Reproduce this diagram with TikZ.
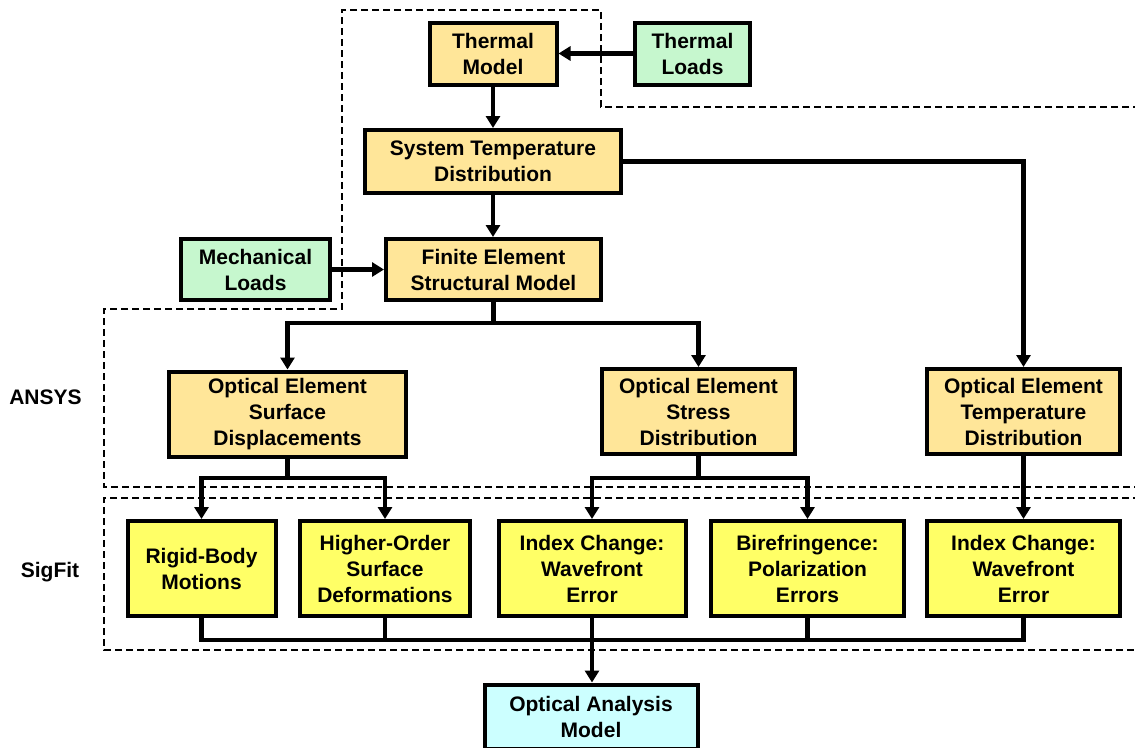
\documentclass[tikz,border=0pt]{standalone}
\usepackage{fontspec}
\setmainfont{Liberation Sans}
\usepackage{xcolor}
\usetikzlibrary{arrows.meta,positioning}

\definecolor{modelorange}{HTML}{FFE699}
\definecolor{loadgreen}{HTML}{C6F7CE}
\definecolor{erryellow}{HTML}{FFFF66}
\definecolor{optcyan}{HTML}{CCFFFF}

\begin{document}
\begin{tikzpicture}[x=1pt, y=-1pt,
    box/.style={draw, line width=4pt, inner sep=0pt, align=center, font=\fontsize{21}{26}\selectfont\bfseries},
    model/.style={box, fill=modelorange},
    load/.style={box, fill=loadgreen},
    err/.style={box, fill=erryellow, minimum height=95pt},
    lbl/.style={font=\fontsize{21}{26}\selectfont\bfseries},
    link/.style={line width=4.2pt},
    arr/.style={link, -{Triangle[length=12pt,width=14pt]}},
    zone/.style={line width=2.6pt, dash pattern=on 7pt off 4pt}
]
    \useasboundingbox (0,0) rectangle (1135,747);

    % program regions
    \draw[zone] (1140,107) -- (601,107) -- (601,10) -- (342,10) -- (342,309) -- (104,309) -- (104,487) -- (1140,487);
    \draw[zone] (1140,498) -- (104,498) -- (104,650) -- (1140,650);
    \node[lbl] (ansys) at (45.5,397) {ANSYS};
    \node[lbl] (sigfit) at (50,572) {SigFit};

    % thermal / structural models
    \node[model, minimum width=127pt, minimum height=62pt] (thermal) at (493,53.5) {Thermal\\Model};
    \node[load, minimum width=115pt, minimum height=62pt] (tloads) at (692.5,53.5) {Thermal\\Loads};
    \node[model, minimum width=256pt, minimum height=63pt] (systemp) at (493,161.5) {System Temperature\\Distribution};
    \node[load, minimum width=149pt, minimum height=61pt] (mech) at (255.5,269.5) {Mechanical\\Loads};
    \node[model, minimum width=215pt, minimum height=61pt] (fem) at (493.5,269.5) {Finite Element\\Structural Model};

    % optical element results
    \node[model, minimum width=237pt, minimum height=85pt] (surf) at (287.5,414) {Optical Element\\Surface\\Displacements};
    \node[model, minimum width=193pt, minimum height=85pt] (stress) at (698.5,411.5) {Optical Element\\Stress\\Distribution};
    \node[model, minimum width=193pt, minimum height=85pt] (temp) at (1023.5,411.5) {Optical Element\\Temperature\\Distribution};

    % SigFit outputs
    \node[err, minimum width=148pt] (rigid) at (201.5,568.5) {Rigid-Body\\Motions};
    \node[err, minimum width=170pt] (higher) at (385,568.5) {Higher-Order\\Surface\\Deformations};
    \node[err, minimum width=187pt] (index1) at (592,568.5) {Index Change:\\Wavefront\\Error};
    \node[err, minimum width=193pt] (biref) at (807.5,568.5) {Birefringence:\\Polarization\\Errors};
    \node[err, minimum width=193pt] (index2) at (1023.5,568.5) {Index Change:\\Wavefront\\Error};

    \node[box, fill=optcyan, minimum width=213pt, minimum height=64pt] (optan) at (591,716.5) {Optical Analysis\\Model};

    % connectors
    \draw[arr] (tloads) -- (thermal);
    \draw[arr] (thermal.south) -- (thermal.south |- systemp.north);
    \draw[arr] (systemp.south) -- (systemp.south |- fem.north);
    \draw[arr] (mech) -- (fem);
    \draw[arr] (systemp.east) -| (temp.north);

    \draw[link] (fem.south) -- ++(0,21) coordinate (femsplit);
    \draw[arr] (femsplit) -| (surf.north);
    \draw[arr] (femsplit) -| (stress.north);

    \draw[link] (surf.south) -- ++(0,19.5) coordinate (surfsplit);
    \draw[arr] (surfsplit) -| (rigid.north);
    \draw[arr] (surfsplit) -| (higher.north);

    \draw[link] (stress.south) -- (stress.south |- surfsplit) coordinate (stresssplit);
    \draw[arr] (stresssplit) -| (index1.north);
    \draw[arr] (stresssplit) -| (biref.north);

    \draw[arr] (temp) -- (index2);

    \draw[link] (rigid.south) -- ++(0,22) coordinate (collect) -- (collect -| index2.south) -- (index2.south);
    \draw[link] (higher.south) -- (higher.south |- collect);
    \draw[link] (biref.south) -- (biref.south |- collect);
    \draw[arr] (index1.south) -- (index1.south |- optan.north);
\end{tikzpicture}
\end{document}
